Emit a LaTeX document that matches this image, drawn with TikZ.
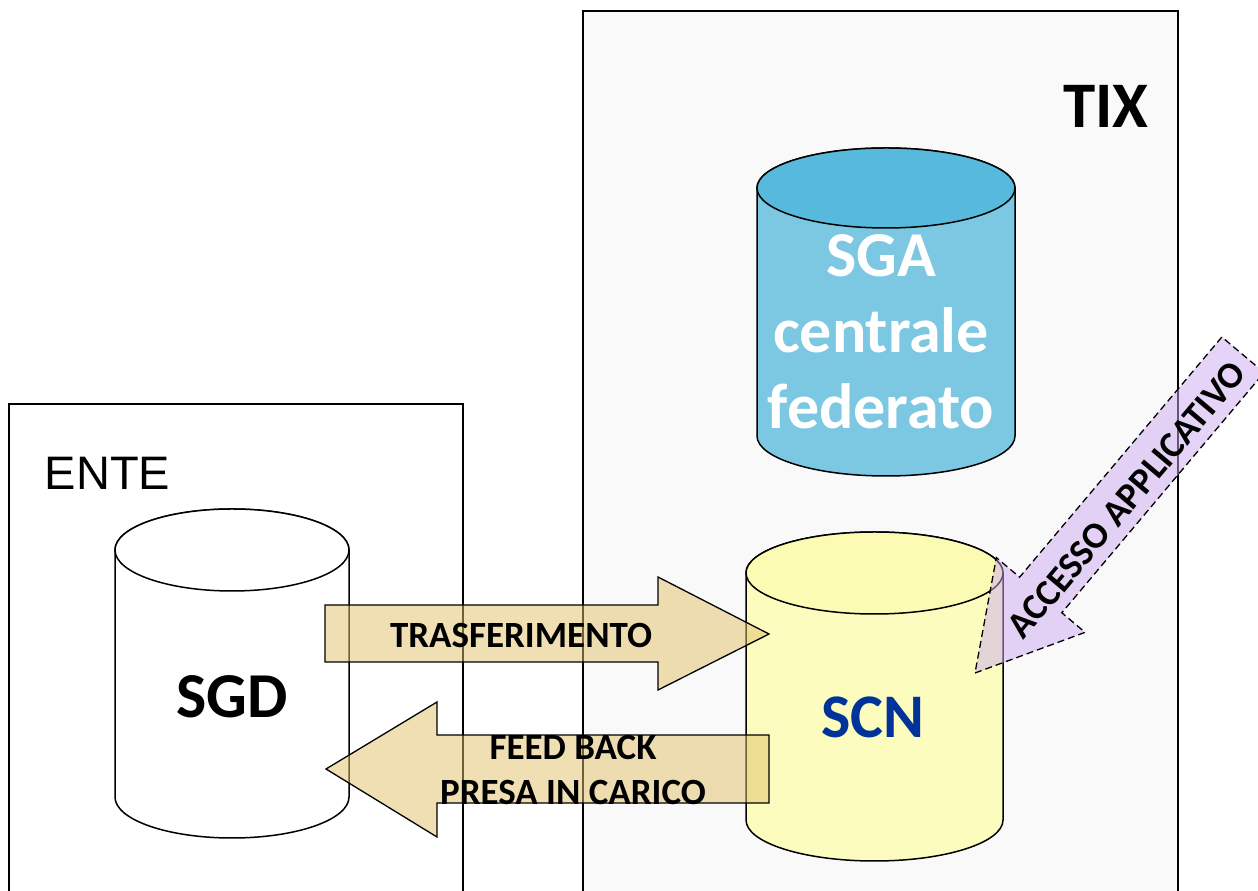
\documentclass[tikz,border=0pt]{standalone}
\usepackage{fontspec}
\setmainfont{Carlito}
\newfontfamily\entefont{Liberation Sans}

\definecolor{tixgray}{HTML}{F9F9F9}
\definecolor{sgatop}{HTML}{57B9DB}
\definecolor{sgaside}{HTML}{7CC7E1}
\definecolor{scnside}{HTML}{FCFCBE}
\definecolor{scntop}{HTML}{FCFBB4}
\definecolor{scnblue}{HTML}{003399}
\definecolor{flowtan}{HTML}{E1C169}
\definecolor{accpurple}{HTML}{CDABF1}

\tikzset{
  box/.style={draw=black, line width=1.2pt},
  cyl/.style={draw=black, line width=1.5pt},
  flow/.style={draw=black, line width=1.3pt, fill=flowtan, fill opacity=0.5},
  access/.style={draw=black, line width=1.3pt, dash pattern=on 7pt off 4pt, fill=accpurple, fill opacity=0.5},
  biglabel/.style={font=\fontsize{64}{76}\selectfont\bfseries, inner sep=0pt},
  flowlabel/.style={font=\fontsize{37}{45}\selectfont\bfseries, inner sep=0pt, align=center}
}

\begin{document}
\begin{tikzpicture}[x=1pt, y=1pt]
        % Fix the page and keep everything inside it
        \useasboundingbox (0,0) rectangle (1258,891);
        \clip (0,0) rectangle (1258,891);
        \fill[white] (0,0) rectangle (1258,891);

        % Draw the two boxes
        \filldraw[box, fill=tixgray] (583,-10) rectangle (1178,880);
        \filldraw[box, fill=white] (9,-10) rectangle (463,487);
        \node[biglabel, font=\fontsize{65}{78}\selectfont\bfseries] (tix) at (1106,785) {TIX};
        \node[inner sep=0pt, font=\entefont\fontsize{47}{56}\selectfont] (ente) at (107.5,417.5) {ENTE};

        % Draw the databases as cylinders
        \foreach \cx/\rx/\yt/\yb/\ry/\sidecol/\topcol in {232/117/341/94/41/white/white, 886/129/703/455/40/sgaside/sgatop, 874.5/128.5/318/71/41/scnside/scntop}
        {
          \filldraw[cyl, fill=\sidecol] ({\cx-\rx},\yt) -- ({\cx-\rx},\yb) arc[start angle=180, end angle=360, x radius=\rx, y radius=\ry] -- ({\cx+\rx},\yt) arc[start angle=0, end angle=180, x radius=\rx, y radius=\ry] -- cycle;
          \filldraw[cyl, fill=\topcol] (\cx,\yt) ellipse[x radius=\rx, y radius=\ry];
        }
        \node[biglabel] (sgd) at (232,194.5) {SGD};
        \node[biglabel, text=white, align=center] (sga) at (881,559.5) {SGA\\centrale\\federato};
        \node[biglabel, font=\fontsize{62}{74}\selectfont\bfseries, text=scnblue] (scn) at (873,174) {SCN};

        % Draw the transfer and feedback arrows
        \filldraw[flow] (325,286) -- (658,286) -- (658,314) -- (769,257) -- (658,201) -- (658,229) -- (325,229) -- cycle;
        \node[flowlabel] (trasf) at (521,256) {TRASFERIMENTO};
        \filldraw[flow] (326,122) -- (437,189) -- (437,156) -- (769,156) -- (769,88) -- (437,88) -- (437,54) -- cycle;
        \node[flowlabel] (feedback) at (573,121.5) {FEED BACK\\PRESA IN CARICO};

        % Draw the application access arrow
        \begin{scope}[shift={(975,218)}, rotate=229.9]
          \filldraw[access] (0,0) -- (-102,58) -- (-102,27.6) -- (-416,27.6) -- (-416,-27.6) -- (-102,-27.6) -- (-102,-58) -- cycle;
        \end{scope}
        \node[flowlabel, rotate=49.9] (accesso) at (1126.5,391) {ACCESSO APPLICATIVO};
      \end{tikzpicture}
\end{document}
